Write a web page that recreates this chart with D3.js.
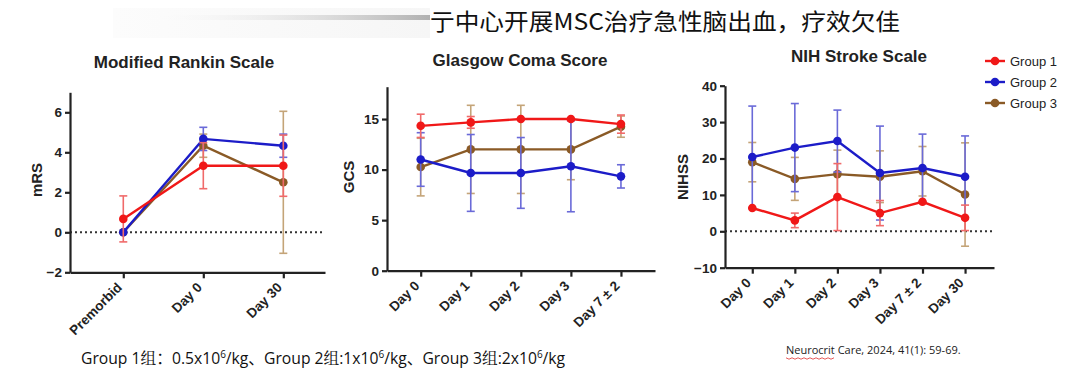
<!DOCTYPE html>
<html>
<head>
<meta charset="utf-8">
<script src="https://cdn.jsdelivr.net/npm/d3@7"></script>
<style>
  body { margin: 0; background: #fff; }
  svg { display: block; }
</style>
</head>
<body>
<div id="chart-area"></div>
<script>
// Categories
var mrsCats = ["Premorbid", "Day 0", "Day 30"];
var gcsCats = ["Day 0", "Day 1", "Day 2", "Day 3", "Day 7 ± 2"];
var nihCats = ["Day 0", "Day 1", "Day 2", "Day 3", "Day 7 ± 2", "Day 30"];
var groupNames = ["Group 1", "Group 2", "Group 3"];

// Modified Rankin Scale (mean, SD)
var mrsG1 = [0.67, 3.33, 3.33];
var mrsG1Sd = [1.15, 1.15, 1.53];
var mrsG2 = [0, 4.67, 4.33];
var mrsG2Sd = [0, 0.58, 0.58];
var mrsG3 = [0, 4.33, 2.5];
var mrsG3Sd = [0, 0.58, 3.55];

// Glasgow Coma Score
var gcsG1 = [14.33, 14.67, 15, 15, 14.5];
var gcsG1Sd = [1.15, 0.58, 0, 0, 0.9];
var gcsG2 = [11, 9.67, 9.67, 10.33, 9.33];
var gcsG2Sd = [2.65, 3.8, 3.5, 4.5, 1.15];
var gcsG3 = [10.25, 12, 12, 12, 14.25];
var gcsG3Sd = [2.85, 4.36, 4.36, 3, 1.05];

// NIH Stroke Scale
var nihG1 = [6.4, 3.0, 9.4, 5.0, 8.1, 3.7];
var nihG1Sd = [0, 2, 9.2, 3.45, 0, 3.5];
var nihG2 = [20.4, 23.0, 24.8, 16.0, 17.4, 15.0];
var nihG2Sd = [14, 12.1, 8.5, 12.9, 9.3, 11.2];
var nihG3 = [19.0, 14.4, 15.7, 15.0, 16.5, 10.1];
var nihG3Sd = [5.4, 5.9, 6.6, 7.1, 6.8, 14.2];

// Tick values
var mrsTicks = [-2, 0, 2, 4, 6];
var gcsTicks = [0, 5, 10, 15];
var nihTicks = [-10, 0, 10, 20, 30, 40];

var colors = ["#f01818", "#1c1cc8", "#8a5a26"];
var errColors = ["#f06a6a", "#6a6ad8", "#c4a478"];

var svg = d3.select("#chart-area")
  .append("svg")
  .attr("width", 1080)
  .attr("height", 378)
  .style("font-family", "'Liberation Sans', Arial, sans-serif");

// Header with faded bar
var defs = svg.append("defs");
var grad = defs.append("linearGradient").attr("id", "fade");
grad.append("stop").attr("offset", "0%").attr("stop-color", "#fff").attr("stop-opacity", 0);
grad.append("stop").attr("offset", "100%").attr("stop-color", "#b0b0b0").attr("stop-opacity", 1);
var grad2 = defs.append("linearGradient").attr("id", "fade2");
grad2.append("stop").attr("offset", "0%").attr("stop-color", "#fcfcfc");
grad2.append("stop").attr("offset", "100%").attr("stop-color", "#f6f6f6");

svg.append("rect").attr("x", 113).attr("y", 8).attr("width", 317).attr("height", 30).attr("fill", "url(#fade2)");
svg.append("rect").attr("x", 140).attr("y", 15).attr("width", 290).attr("height", 5).attr("fill", "url(#fade)");

svg.append("text")
  .attr("x", 430)
  .attr("y", 30)
  .attr("textLength", 470)
  .attr("lengthAdjust", "spacingAndGlyphs")
  .style("font-family", "'Noto Sans CJK SC', sans-serif")
  .style("font-size", "23px")
  .style("font-weight", "400")
  .attr("fill", "#111")
  .text("亍中心开展MSC治疗急性脑出血，疗效欠佳");

function drawPanel(opt) {
  var g = svg.append("g");

  var x = d3.scaleLinear().domain(opt.xDomain).range(opt.xRange);
  var y = d3.scaleLinear().domain(opt.yDomain).range(opt.yRange);
  var y0 = opt.yRange[0];

  // Title
  g.append("text")
    .attr("x", opt.titleX)
    .attr("y", opt.titleY)
    .attr("text-anchor", "middle")
    .style("font-size", "17px")
    .style("font-weight", "bold")
    .attr("fill", "#222")
    .text(opt.title);

  // Zero line
  if (opt.zeroLine) {
    g.append("line")
      .attr("x1", opt.xRange[0])
      .attr("x2", opt.xRange[1])
      .attr("y1", y(0))
      .attr("y2", y(0))
      .attr("stroke", "#333")
      .attr("stroke-width", 2)
      .attr("stroke-dasharray", "2,3");
  }

  // Axes
  var yAxis = d3.axisLeft(y).tickValues(opt.yTicks).tickSize(5).tickSizeOuter(0).tickPadding(3);
  var ya = g.append("g")
    .attr("transform", "translate(" + opt.xRange[0] + ",0)")
    .call(yAxis);

  var xAxis = d3.axisBottom(x)
    .tickValues(d3.range(opt.cats.length))
    .tickFormat(function(i) { return opt.cats[i]; })
    .tickSize(6)
    .tickSizeOuter(0);
  var xa = g.append("g")
    .attr("transform", "translate(0," + y0 + ")")
    .call(xAxis);

  [ya, xa].forEach(function(a) {
    a.select(".domain").attr("stroke", "#222").attr("stroke-width", 2.2);
    a.selectAll(".tick line").attr("stroke", "#222").attr("stroke-width", 2.2);
    a.selectAll(".tick text")
      .attr("fill", "#222")
      .style("font-size", "13.5px")
      .style("font-weight", "bold")
      .style("font-family", "'Liberation Sans', Arial, sans-serif");
  });

  xa.selectAll(".tick text")
    .attr("text-anchor", "end")
    .attr("dy", null)
    .attr("y", 0)
    .attr("transform", "translate(-1,16) rotate(-45)");

  // Y label
  g.append("text")
    .attr("transform", "translate(" + opt.labelX + "," + opt.labelY + ") rotate(-90)")
    .attr("text-anchor", "middle")
    .style("font-size", "15px")
    .style("font-weight", "bold")
    .attr("fill", "#222")
    .text(opt.yLabel);

  // Series: draw group 3, 2, then 1 on top
  [2, 1, 0].forEach(function(k) {
    var vals = opt.series[k];
    var sds = opt.sds[k];
    var pts = vals.map(function(v, i) { return { i: i, v: v, sd: sds[i] }; });

    var eb = g.append("g").attr("stroke", errColors[k]).attr("stroke-width", 1.6);
    pts.filter(function(d) { return d.sd > 0; }).forEach(function(d) {
      var cx = x(d.i);
      eb.append("line").attr("x1", cx).attr("x2", cx)
        .attr("y1", y(d.v - d.sd)).attr("y2", y(d.v + d.sd));
      eb.append("line").attr("x1", cx - 4).attr("x2", cx + 4)
        .attr("y1", y(d.v + d.sd)).attr("y2", y(d.v + d.sd));
      eb.append("line").attr("x1", cx - 4).attr("x2", cx + 4)
        .attr("y1", y(d.v - d.sd)).attr("y2", y(d.v - d.sd));
    });

    var line = d3.line()
      .x(function(d) { return x(d.i); })
      .y(function(d) { return y(d.v); });

    g.append("path")
      .datum(pts)
      .attr("fill", "none")
      .attr("stroke", colors[k])
      .attr("stroke-width", 2.4)
      .attr("d", line);

    g.selectAll(null)
      .data(pts)
      .enter()
      .append("circle")
      .attr("cx", function(d) { return x(d.i); })
      .attr("cy", function(d) { return y(d.v); })
      .attr("r", 4.3)
      .attr("fill", colors[k]);
  });
}

drawPanel({
  title: "Modified Rankin Scale", titleX: 184, titleY: 68,
  cats: mrsCats,
  xDomain: [-0.666, 2.521], xRange: [70, 325],
  yDomain: [-2, 7], yRange: [272.3, 92.3],
  yTicks: mrsTicks, zeroLine: true,
  yLabel: "mRS", labelX: 42, labelY: 180,
  series: [mrsG1, mrsG2, mrsG3],
  sds: [mrsG1Sd, mrsG2Sd, mrsG3Sd]
});

drawPanel({
  title: "Glasgow Coma Score", titleX: 520, titleY: 66,
  cats: gcsCats,
  xDomain: [-0.673, 4.68], xRange: [387, 655],
  yDomain: [0, 18.2], yRange: [270.7, 86.7],
  yTicks: gcsTicks, zeroLine: false,
  yLabel: "GCS", labelX: 354, labelY: 177,
  series: [gcsG1, gcsG2, gcsG3],
  sds: [gcsG1Sd, gcsG2Sd, gcsG3Sd]
});

drawPanel({
  title: "NIH Stroke Scale", titleX: 859, titleY: 62,
  cats: nihCats,
  xDomain: [-0.641, 5.68], xRange: [725, 994],
  yDomain: [-10, 40], yRange: [267.7, 85.7],
  yTicks: nihTicks, zeroLine: true,
  yLabel: "NIHSS", labelX: 688, labelY: 177,
  series: [nihG1, nihG2, nihG3],
  sds: [nihG1Sd, nihG2Sd, nihG3Sd]
});

// Legend
var legend = svg.append("g");
var legendY = [61, 82, 103];
groupNames.forEach(function(name, k) {
  var row = legend.append("g").attr("transform", "translate(0," + legendY[k] + ")");
  row.append("line").attr("x1", 985).attr("x2", 1005).attr("y1", 0).attr("y2", 0)
    .attr("stroke", colors[k]).attr("stroke-width", 2.4);
  row.append("circle").attr("cx", 995).attr("cy", 0).attr("r", 4.3).attr("fill", colors[k]);
  row.append("text").attr("x", 1010).attr("y", 5)
    .style("font-size", "13px").attr("fill", "#222").text(name);
});

// Footer note
var foot = svg.append("text")
  .attr("x", 81)
  .attr("y", 364)
  .style("font-family", "'Open Sans', 'Noto Sans CJK SC', sans-serif")
  .style("font-size", "15.7px")
  .attr("fill", "#111");
var footParts = [["Group 1", 0], ["组", 1], ["：0.5x10", 0], ["6", 2], ["/kg、Group 2", 3], ["组", 1], [":1x10", 0], ["6", 2], ["/kg、Group 3", 3], ["组", 1], [":2x10", 0], ["6", 2], ["/kg", 3]];
footParts.forEach(function(p) {
  var t = foot.append("tspan").text(p[0]);
  if (p[1] === 1) t.style("font-family", "'Noto Serif CJK SC', 'Noto Sans CJK SC', serif");
  if (p[1] === 2) t.attr("dy", -6).style("font-size", "10px");
  if (p[1] === 3) t.attr("dy", 6);
});

svg.append("text")
  .attr("x", 786)
  .attr("y", 354)
  .style("font-family", "'Open Sans', sans-serif")
  .style("font-size", "11px")
  .attr("fill", "#222")
  .text("Neurocrit Care, 2024, 41(1): 59-69.");

// wavy underline under "Neurocrit"
var wave = d3.range(0, 17).map(function(i) { return [786 + i * 3, 358 + (i % 2 ? 1.2 : -0.2)]; });
svg.append("path")
  .attr("d", d3.line()(wave))
  .attr("fill", "none")
  .attr("stroke", "#e03030")
  .attr("stroke-width", 0.8);
</script>
</body>
</html>
